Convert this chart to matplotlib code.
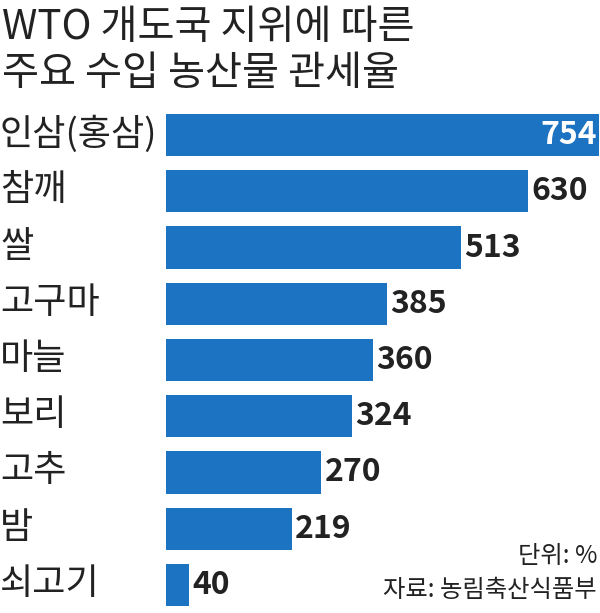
import matplotlib
matplotlib.use("Agg")
import matplotlib.pyplot as plt

plt.rcParams['font.family'] = ['Noto Sans CJK KR', 'DejaVu Sans']

categories = ["인삼(홍삼)", "참깨", "쌀", "고구마", "마늘", "보리", "고추", "밤", "쇠고기"]
values = [754, 630, 513, 385, 360, 324, 270, 219, 40]
color = "#1b73c1"

fig = plt.figure(figsize=(6, 6.13), dpi=100)
ax = fig.add_axes([166/600, 0, 433/600, 506/613])
ys = list(range(len(values)))
ax.barh(ys, values, height=0.75, color=color)
ax.set_xlim(0, 754)
ax.set_ylim(len(values) - 0.5, -0.5)
ax.axis('off')
for y, v, c in zip(ys, values, categories):
    if y == 0:
        ax.text(v - 4, y, str(v), ha='right', va='center', color='white',
                fontsize=23, fontweight='bold')
    else:
        ax.text(v + 6, y, str(v), ha='left', va='center', color='#222222',
                fontsize=23, fontweight='bold')
    fig.text(0/600, 1 - (134 + y * 56.25) / 613, c, ha='left', va='center',
             fontsize=26, color='#222222')

fig.text(2/600, 1 - 28/613, "WTO 개도국 지위에 따른", ha='left', va='center', fontsize=29,
         color='#222222', fontweight='medium')
fig.text(2/600, 1 - 74/613, "주요 수입 농산물 관세율", ha='left', va='center', fontsize=29,
         color='#222222', fontweight='medium')
fig.text(597/600, 1 - 556/613, "단위: %", ha='right', va='center', fontsize=17.5, color='#222222')
fig.text(597/600, 1 - 590/613, "자료: 농림축산식품부", ha='right', va='center', fontsize=17.5, color='#222222')

fig.savefig("out.png", dpi=100)
